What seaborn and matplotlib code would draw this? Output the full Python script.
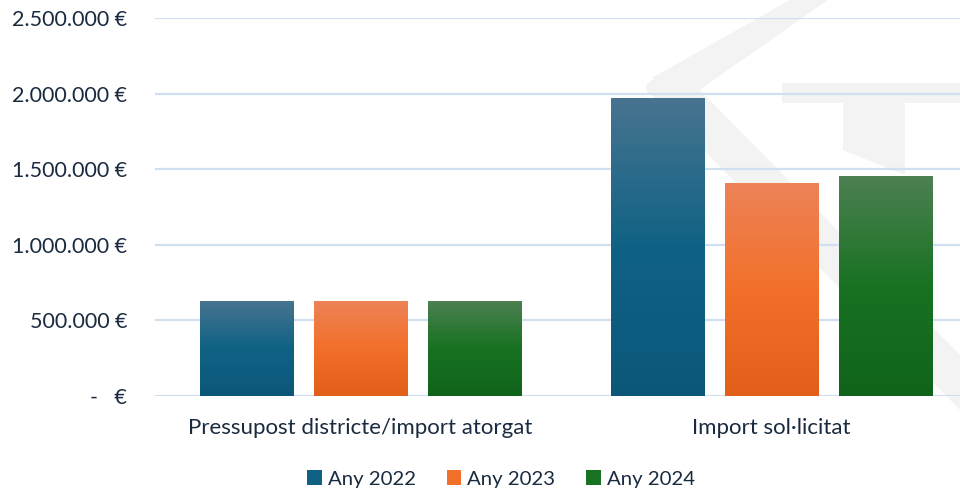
import numpy as np
import pandas as pd
import seaborn as sns
import matplotlib.pyplot as plt
from matplotlib.colors import LinearSegmentedColormap, to_rgb
from matplotlib.patches import Patch, Polygon, Circle

# ---------------- data ----------------
categories = ["Pressupost districte/import atorgat", "Import sol·licitat"]
years = ["Any 2022", "Any 2023", "Any 2024"]
val_2022 = [630000, 1972000]
val_2023 = [630000, 1410000]
val_2024 = [630000, 1455000]

# gradient stops per series: top, middle, bottom
grad = {
    "Any 2022": ["#487490", "#106285", "#0B577A"],
    "Any 2023": ["#ED8358", "#F2702A", "#E25F1A"],
    "Any 2024": ["#4D8052", "#187222", "#10641A"],
}
text_col = "#1A2B40"

df = pd.DataFrame({
    "cat": categories * 3,
    "year": [y for y in years for _ in categories],
    "val": val_2022 + val_2023 + val_2024,
})

sns.set_style("white")
plt.rcParams["font.family"] = ["Lato", "DejaVu Sans"]

fig = plt.figure(figsize=(9.6, 4.9), dpi=100)


def px(pts):
    # pixel coords (from top-left) -> figure fraction
    return [[x / 960, 1 - y / 490] for x, y in pts]


# light grey watermark behind the chart
wm = "#F3F3F3"
shapes = [
    [(790, 0), (828, 0), (688, 98), (652, 78)],
    [(652, 98), (686, 76), (960, 355), (960, 410)],
    [(782, 83), (960, 83), (960, 103), (782, 103)],
    [(843, 100), (905, 100), (905, 175), (843, 150)],
]
for s in shapes:
    fig.patches.append(Polygon(px(s), closed=True, transform=fig.transFigure,
                               facecolor=wm, edgecolor="none", zorder=0))
fig.patches.append(Circle((668 / 960, 1 - 88 / 490), 22 / 960, transform=fig.transFigure,
                          facecolor=wm, edgecolor="none", zorder=0))

ax = fig.add_axes([155 / 960, 1 - 396 / 490, 822 / 960, (396 - 18) / 490])
ax.set_zorder(2)
ax.patch.set_alpha(0)

sns.barplot(data=df, x="cat", y="val", hue="year", order=categories, hue_order=years,
            palette=[grad[y][1] for y in years], width=0.832, gap=0.184, ax=ax,
            legend=False, zorder=3)

# replace solid bars with vertical gradients (light top -> dark bottom)
for cont, yr in zip(ax.containers, years):
    cmap = LinearSegmentedColormap.from_list(yr, [(0, to_rgb(grad[yr][0])),
                                                  (0.5, to_rgb(grad[yr][1])),
                                                  (1, to_rgb(grad[yr][2]))])
    for bar in cont:
        x0, w, h = bar.get_x(), bar.get_width(), bar.get_height()
        img = np.linspace(0, 1, 256).reshape(-1, 1)
        im = ax.imshow(img, cmap=cmap, extent=[x0, x0 + w, 0, h], aspect="auto",
                       origin="upper", zorder=3, interpolation="bilinear")
        im.set_clip_path(bar)
        bar.set_facecolor("none")
        bar.set_edgecolor("none")

ax.set_xlim(-0.5, 1.5)
ax.set_ylim(0, 2500000)

ax.yaxis.grid(True, color="#D0E0F2", linewidth=1.6, zorder=0)
ax.set_axisbelow(True)
for s in ax.spines.values():
    s.set_visible(False)

ticks = [0, 500000, 1000000, 1500000, 2000000, 2500000]
labels = ["-   €"] + [f"{t:,.0f} €".replace(",", ".") for t in ticks[1:]]
ax.set_yticks(ticks)
ax.set_yticklabels(labels)
ax.tick_params(axis="y", length=0, pad=20, labelsize=15.5, labelcolor=text_col)
ax.tick_params(axis="x", length=0, pad=16, labelsize=16, labelcolor=text_col)
ax.set_xlabel("")
ax.set_ylabel("")

handles = [Patch(facecolor=grad[y][1], edgecolor="none", label=y) for y in years]
fig.legend(handles=handles, loc="center", bbox_to_anchor=(501 / 960, 1 - 479 / 490),
           ncol=3, frameon=False, fontsize=14.7, labelcolor=text_col,
           handlelength=0.72, handleheight=0.72, handletextpad=0.3, columnspacing=1.5)

fig.savefig("out.png", dpi=100)
